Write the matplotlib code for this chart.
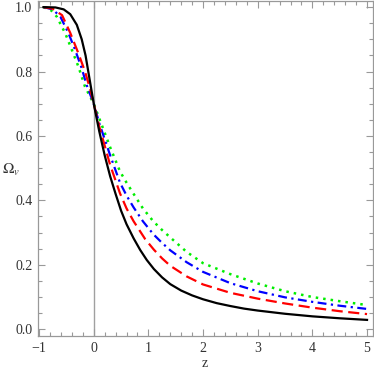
import matplotlib
matplotlib.use('Agg')
import matplotlib.pyplot as plt
from matplotlib.ticker import MultipleLocator

plt.rcParams['font.family'] = 'Liberation Serif'
plt.rcParams['mathtext.fontset'] = 'stix'

# values
z_black = [-0.92, -0.7, -0.55, -0.43, -0.31, -0.22, -0.15, -0.1, -0.05, 0.0,
           0.1, 0.2, 0.3, 0.4, 0.5, 0.6, 0.73, 0.85, 0.97, 1.1, 1.25, 1.4,
           1.6, 1.8, 2.0, 2.25, 2.5, 2.75, 3.0, 3.5, 4.0, 4.5, 5.0]
om_black = [1.0, 0.999, 0.993, 0.978, 0.945, 0.90, 0.85, 0.80, 0.75, 0.70,
            0.615, 0.54, 0.475, 0.42, 0.368, 0.326, 0.282, 0.246, 0.215, 0.187,
            0.161, 0.140, 0.120, 0.105, 0.093, 0.081, 0.072, 0.064, 0.058,
            0.048, 0.040, 0.034, 0.029]

z_red = [-0.92, -0.75, -0.58, -0.43, -0.28, -0.16, -0.07, 0.0, 0.1, 0.2, 0.3,
         0.48, 0.6, 0.73, 0.94, 1.1, 1.25, 1.4, 1.7, 2.0, 2.5, 3.0, 3.5, 4.0,
         4.5, 5.0]
om_red = [1.0, 0.995, 0.975, 0.92, 0.856, 0.80, 0.748, 0.70, 0.63, 0.57, 0.51,
          0.422, 0.375, 0.335, 0.28, 0.247, 0.22, 0.197, 0.164, 0.139, 0.113,
          0.095, 0.080, 0.067, 0.056, 0.047]

z_blue = [-0.92, -0.75, -0.61, -0.46, -0.34, -0.22, -0.13, 0.0, 0.1, 0.2, 0.3,
          0.48, 0.6, 0.73, 0.9, 1.09, 1.25, 1.4, 1.7, 2.0, 2.5, 3.0, 3.5, 4.0,
          4.5, 5.0]
om_blue = [1.0, 0.993, 0.97, 0.918, 0.867, 0.81, 0.758, 0.70, 0.64, 0.59, 0.54,
           0.455, 0.415, 0.378, 0.335, 0.295, 0.268, 0.245, 0.208, 0.178, 0.143,
           0.118, 0.099, 0.085, 0.073, 0.063]

z_green = [-0.92, -0.78, -0.675, -0.52, -0.40, -0.28, -0.16, 0.0, 0.1, 0.2, 0.3,
           0.48, 0.6, 0.73, 0.9, 1.09, 1.25, 1.4, 1.7, 2.0, 2.5, 3.0, 3.5, 4.0,
           4.5, 5.0]
om_green = [1.0, 0.99, 0.97, 0.918, 0.867, 0.815, 0.753, 0.70, 0.655, 0.61, 0.565,
            0.49, 0.455, 0.42, 0.375, 0.335, 0.308, 0.285, 0.24, 0.205, 0.171,
            0.142, 0.118, 0.100, 0.087, 0.075]

fig = plt.figure(figsize=(3.74, 3.70), dpi=100)
ax = fig.add_axes([38 / 374, 34 / 370, 334.5 / 374, 335 / 370])

ax.axvline(0, color='#a0a0a0', lw=1.0, zorder=1)
ax.plot(z_black, om_black, color='black', lw=1.6, zorder=5)
ax.plot(z_red, om_red, color='red', lw=1.6, dashes=(5, 2.5), zorder=4)
ax.plot(z_blue, om_blue, color='blue', lw=1.6, dashes=(4, 2, 1, 2), zorder=3)
ax.plot(z_green, om_green, color='#00ee00', lw=1.8, dashes=(1, 2), zorder=2)

ax.set_xlim(-1.02, 5.10)
ax.set_ylim(-0.021, 1.019)

ax.xaxis.set_major_locator(MultipleLocator(1))
ax.xaxis.set_minor_locator(MultipleLocator(0.2))
ax.yaxis.set_major_locator(MultipleLocator(0.2))
ax.yaxis.set_minor_locator(MultipleLocator(0.05))
ax.yaxis.set_major_formatter(plt.FuncFormatter(lambda v, p: '%.1f' % v))
ax.xaxis.set_major_formatter(plt.FuncFormatter(lambda v, p: '\u2212%d' % -v if v < 0 else '%d' % v))

for s in ax.spines.values():
    s.set_color('#999999')
    s.set_linewidth(0.9)
ax.tick_params(which='both', direction='in', top=True, right=True,
               color='#999999', width=0.8, labelsize=10, labelcolor='#333333')
ax.tick_params(which='major', length=5, pad=4)
ax.tick_params(which='minor', length=3)

ax.set_xlabel('z', fontsize=10, color='#333333', va='center')
ax.xaxis.set_label_coords(0.5, -0.083)
ax.set_ylabel(r'$\Omega_v$', fontsize=11, color='#333333', rotation=0,
              va='center', ha='center')
ax.yaxis.set_label_coords(-0.08, 0.495)

fig.savefig('out.png', dpi=100)
